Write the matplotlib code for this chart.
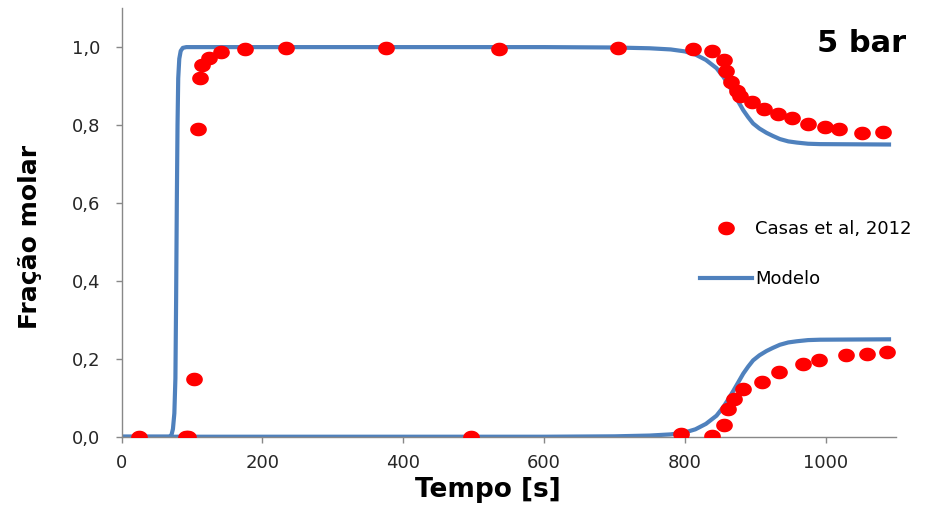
import numpy as np
import matplotlib
matplotlib.use("Agg")
import matplotlib.pyplot as plt
from matplotlib.path import Path

# pontos experimentais (Casas et al, 2012) - componente que sobe primeiro
exp_a_t = [25, 91, 94, 103, 108, 111.5, 114, 124, 141, 176, 234, 376, 536, 705,
           812, 838, 855, 859, 865, 874, 878.5, 896, 912.6, 933, 952, 975.6,
           999, 1019.6, 1051, 1082]
exp_a_y = [0, 0, 0, 0.147, 0.79, 0.921, 0.955, 0.973, 0.988, 0.994, 0.997, 0.997,
           0.996, 0.997, 0.994, 0.99, 0.966, 0.938, 0.91, 0.887, 0.874, 0.86,
           0.842, 0.829, 0.817, 0.803, 0.795, 0.79, 0.78, 0.782]

# componente que sobe depois
exp_b_t = [497, 795, 838, 855, 862, 870, 883, 909, 934, 968, 990, 1029, 1058.5, 1087]
exp_b_y = [0, 0.006, 0.003, 0.03, 0.07, 0.098, 0.122, 0.141, 0.165, 0.186, 0.196,
           0.209, 0.212, 0.217]

# curvas do modelo
mod_a_t = [0, 68, 71, 73, 75, 76.5, 77.5, 78.5, 79.5, 80.5, 82, 84, 87, 92, 600,
           700, 750, 780, 800, 815, 830, 845, 855, 862, 869, 876, 883, 890, 897,
           906, 916, 925, 935, 947, 959, 975, 992, 1090]
mod_a_y = [0, 0, 0.005, 0.02, 0.06, 0.15, 0.35, 0.6, 0.8, 0.92, 0.97, 0.99, 0.998,
           1.0, 1.0, 0.999, 0.997, 0.994, 0.989, 0.981, 0.967, 0.946, 0.923, 0.903,
           0.882, 0.86, 0.838, 0.82, 0.804, 0.791, 0.78, 0.772, 0.764, 0.758,
           0.755, 0.752, 0.751, 0.75]
mod_b_t = [0, 600, 700, 750, 780, 800, 815, 830, 845, 855, 862, 869, 876, 883, 890,
           897, 906, 916, 925, 935, 947, 959, 975, 992, 1090]
mod_b_y = [0, 0, 0.001, 0.003, 0.006, 0.011, 0.019, 0.033, 0.054, 0.077, 0.097,
           0.118, 0.14, 0.162, 0.18, 0.196, 0.209, 0.22, 0.228, 0.236, 0.242,
           0.245, 0.248, 0.249, 0.25]

yticks = [0, 0.2, 0.4, 0.6, 0.8, 1.0]
ytick_labels = ["0,0", "0,2", "0,4", "0,6", "0,8", "1,0"]
xticks = [0, 200, 400, 600, 800, 1000]

azul = "#4F81BD"
vermelho = "#FF0000"
cinza = "#888888"

# marcador eliptico (os pontos da figura original sao um pouco achatados)
th = np.linspace(0, 2 * np.pi, 40)
elipse = Path(np.column_stack([1.25 * np.cos(th), np.sin(th)]), closed=True)

plt.rcParams['font.family'] = ['DejaVu Sans']

fig = plt.figure(figsize=(9.25, 5.09), dpi=100)
ax = fig.add_axes([0.1314, 0.142, 0.8373, 0.842])

ax.plot(mod_a_t, mod_a_y, color=azul, lw=3, solid_joinstyle='round', zorder=2)
ax.plot(mod_b_t, mod_b_y, color=azul, lw=3, solid_joinstyle='round', zorder=2)
ax.plot(exp_a_t, exp_a_y, ls='none', marker=elipse, ms=11, color=vermelho, zorder=3)
ax.plot(exp_b_t, exp_b_y, ls='none', marker=elipse, ms=11, color=vermelho, zorder=3)

ax.set_xlim(0, 1100)
ax.set_ylim(0, 1.1)
ax.set_xticks(xticks)
ax.set_yticks(yticks)
ax.set_yticklabels(ytick_labels)

for s in ['top', 'right']:
    ax.spines[s].set_visible(False)
for s in ['left', 'bottom']:
    ax.spines[s].set_color(cinza)
    ax.spines[s].set_linewidth(1)
ax.tick_params(axis='both', direction='out', length=4.5, width=1, color=cinza,
               labelsize=13, labelcolor='#262626')
ax.tick_params(axis='x', pad=8)
ax.tick_params(axis='y', pad=11)

ax.set_xlabel("Tempo [s]", fontsize=19, fontweight='bold', va='baseline')
ax.xaxis.set_label_coords(0.4726, -0.14)
ax.set_ylabel("Fração molar", fontsize=18, fontweight='bold', va='center')
ax.yaxis.set_label_coords(-0.118, 0.4665)

ax.text(0.956, 0.898, "5 bar", transform=ax.transAxes, fontsize=22,
        fontweight='bold', ha='center', va='baseline')

# legenda
h1, = ax.plot([], [], ls='none', marker=elipse, ms=11, color=vermelho)
h2, = ax.plot([], [], color=azul, lw=3)
fig.legend([h1, h2], ["Casas et al, 2012", "Modelo"], loc='upper left',
           bbox_to_anchor=(700 / 925, 1 - 220.5 / 509), frameon=False,
           fontsize=13, handlelength=2.9, handletextpad=0.17, labelspacing=1.75,
           borderpad=0, borderaxespad=0, numpoints=1)

fig.savefig("out.png", dpi=100)
